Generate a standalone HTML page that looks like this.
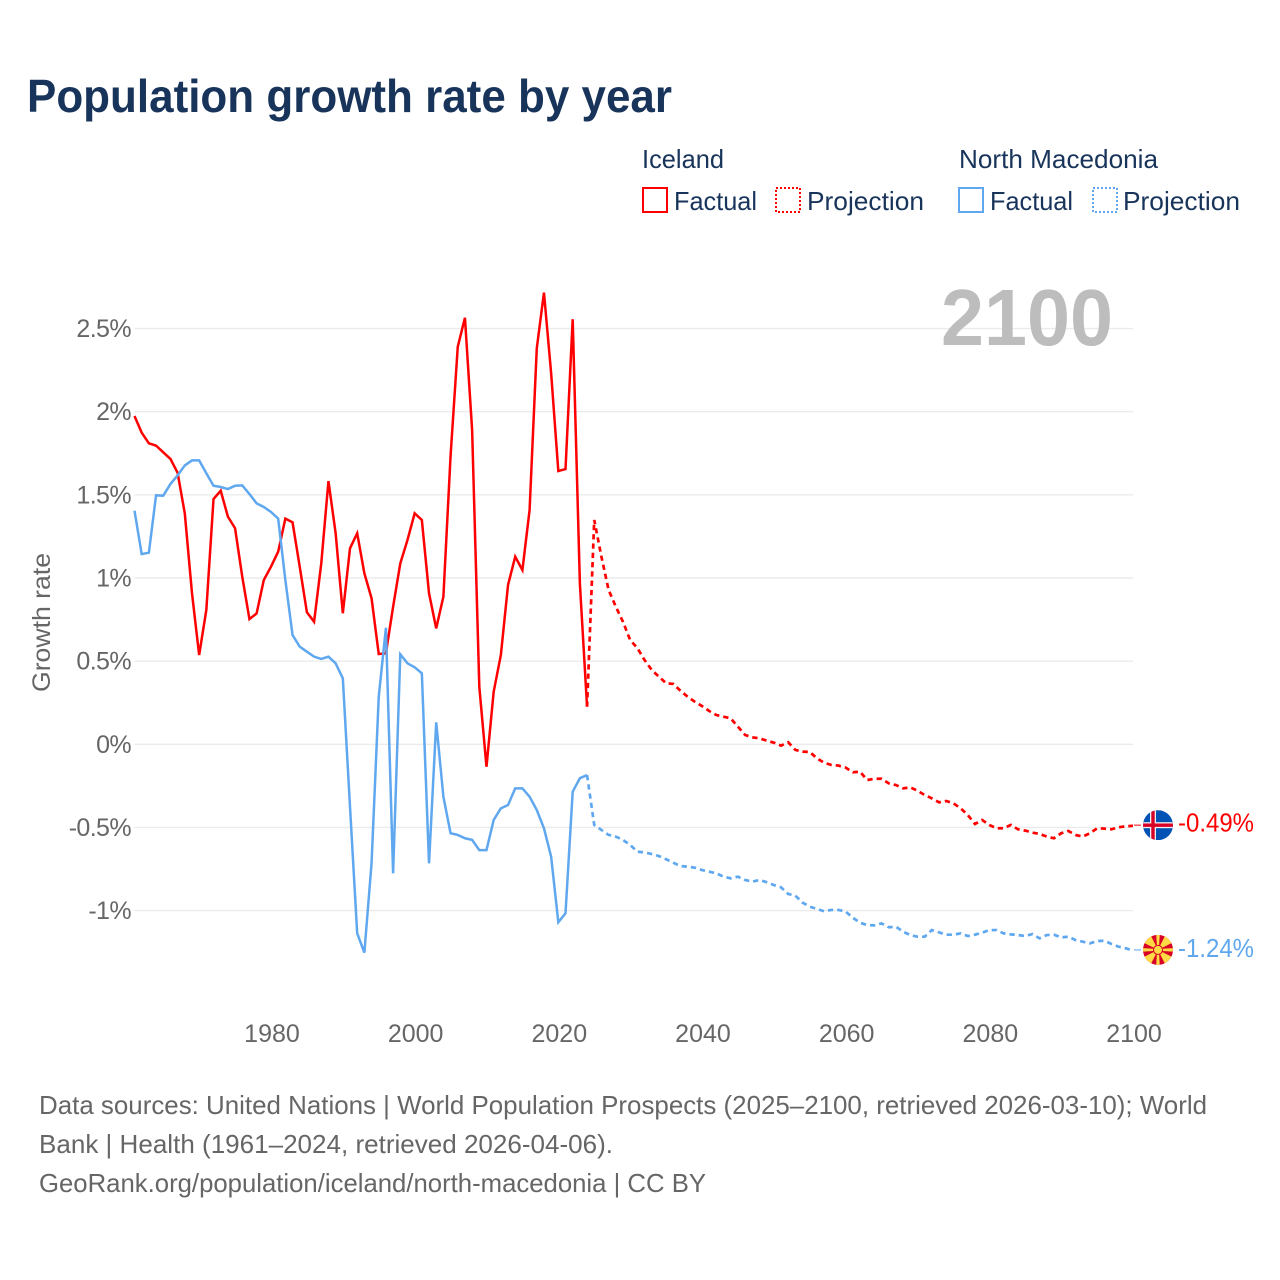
<!DOCTYPE html>
<html lang="en">
<head>
<meta charset="utf-8">
<title>Population growth rate by year</title>
<style>
  html, body { margin: 0; padding: 0; background: #ffffff; }
  svg { display: block; font-family: "Liberation Sans", sans-serif; }
</style>
</head>
<body>
<svg id="chart" xmlns="http://www.w3.org/2000/svg" width="1280" height="1280" viewBox="0 0 1280 1280">
  <defs>
    <clipPath id="flag-clip"><circle cx="0" cy="0" r="15"></circle></clipPath>
  </defs>
  <rect x="0" y="0" width="1280" height="1280" fill="#ffffff"></rect>

  <text x="27" y="112" font-size="46" font-weight="700" fill="#18345a" textLength="645" lengthAdjust="spacingAndGlyphs">Population growth rate by year</text>

  <g font-size="26" fill="#18345a">
    <text x="642" y="168" textLength="82" lengthAdjust="spacingAndGlyphs">Iceland</text>
    <text x="959" y="168" textLength="199" lengthAdjust="spacingAndGlyphs">North Macedonia</text>
    <g>
      <rect x="643" y="188" width="24" height="24" fill="none" stroke="#ff0000" stroke-width="2"></rect>
      <text x="674" y="210" textLength="83" lengthAdjust="spacingAndGlyphs">Factual</text>
    </g>
    <g>
      <rect x="776" y="188" width="24" height="24" fill="none" stroke="#ff0000" stroke-width="2" stroke-dasharray="2 2"></rect>
      <text x="807" y="210" textLength="117" lengthAdjust="spacingAndGlyphs">Projection</text>
    </g>
    <g>
      <rect x="959" y="188" width="24" height="24" fill="none" stroke="#5fa8ef" stroke-width="2"></rect>
      <text x="990" y="210" textLength="83" lengthAdjust="spacingAndGlyphs">Factual</text>
    </g>
    <g>
      <rect x="1093" y="188" width="24" height="24" fill="none" stroke="#5fa8ef" stroke-width="2" stroke-dasharray="2 2"></rect>
      <text x="1123" y="210" textLength="117" lengthAdjust="spacingAndGlyphs">Projection</text>
    </g>
  </g>

  <g id="grid"></g>
  <text x="941" y="345" font-size="80" font-weight="700" fill="#bdbdbd" textLength="172" lengthAdjust="spacingAndGlyphs">2100</text>
  <g id="y-ticks" font-size="25" fill="#666666" text-anchor="end" letter-spacing="-0.6"></g>
  <g id="x-ticks" font-size="25" fill="#666666" text-anchor="middle"></g>
  <text transform="translate(50 692) rotate(-90)" font-size="25" fill="#666666" textLength="139" lengthAdjust="spacingAndGlyphs">Growth rate</text>

  <g id="series"></g>

  <g id="flag-iceland">
    <g clip-path="url(#flag-clip)">
      <rect x="-15" y="-15" width="30" height="30" fill="#0052b4"></rect>
      <rect x="-15" y="-3" width="30" height="6" fill="#f0f0f0"></rect>
      <rect x="-8" y="-15" width="6" height="30" fill="#f0f0f0"></rect>
      <rect x="-15" y="-1.7" width="30" height="3.4" fill="#d80027"></rect>
      <rect x="-6.7" y="-15" width="3.4" height="30" fill="#d80027"></rect>
    </g>
  </g>
  <g id="flag-macedonia">
    <g clip-path="url(#flag-clip)">
      <rect x="-15" y="-15" width="30" height="30" fill="#d80027"></rect>
      <polygon fill="#ffda44" points="-1.8,-16 1.8,-16 0.9,0 -0.9,0"></polygon>
      <polygon fill="#ffda44" points="-1.8,16 1.8,16 0.9,0 -0.9,0"></polygon>
      <polygon fill="#ffda44" points="-16,-1.8 -16,1.8 0,0.9 0,-0.9"></polygon>
      <polygon fill="#ffda44" points="16,-1.8 16,1.8 0,0.9 0,-0.9"></polygon>
      <polygon fill="#ffda44" points="7.5,-15 15,-7.5 0,0"></polygon>
      <polygon fill="#ffda44" points="15,7.5 7.5,15 0,0"></polygon>
      <polygon fill="#ffda44" points="-7.5,15 -15,7.5 0,0"></polygon>
      <polygon fill="#ffda44" points="-15,-7.5 -7.5,-15 0,0"></polygon>
      <circle cx="0" cy="0" r="5" fill="#d80027"></circle>
      <circle cx="0" cy="0" r="4" fill="#ffda44"></circle>
    </g>
  </g>
  <text id="end-label-iceland" x="1178" font-size="26" fill="#ff0000" textLength="76" lengthAdjust="spacingAndGlyphs"></text>
  <text id="end-label-macedonia" x="1178" font-size="26" fill="#5fa8ef" textLength="76" lengthAdjust="spacingAndGlyphs"></text>

  <g font-size="26" fill="#666666">
    <text x="39" y="1114" textLength="1168" lengthAdjust="spacingAndGlyphs">Data sources: United Nations | World Population Prospects (2025–2100, retrieved 2026-03-10); World</text>
    <text x="39" y="1153" textLength="574" lengthAdjust="spacingAndGlyphs">Bank | Health (1961–2024, retrieved 2026-04-06).</text>
    <text x="39" y="1192" textLength="667" lengthAdjust="spacingAndGlyphs">GeoRank.org/population/iceland/north-macedonia | CC BY</text>
  </g>
</svg>

<script>
const factualStartYear = 1961;
const projectionStartYear = 2024;
const yTickValues = [2.5, 2, 1.5, 1, 0.5, 0, -0.5, -1];
const yTickLabels = ["2.5%", "2%", "1.5%", "1%", "0.5%", "0%", "-0.5%", "-1%"];
const xTickYears = [1980, 2000, 2020, 2040, 2060, 2080, 2100];
const icelandEndLabel = "-0.49%";
const macedoniaEndLabel = "-1.24%";

const icelandFactual = [
  1.974, 1.874, 1.81, 1.796, 1.756, 1.716, 1.633, 1.389, 0.91, 0.537,
  0.808, 1.475, 1.525, 1.369, 1.299, 1.008, 0.753, 0.787, 0.988, 1.068,
  1.158, 1.357, 1.335, 1.068, 0.794, 0.737, 1.088, 1.583, 1.269, 0.788,
  1.178, 1.269, 1.028, 0.878, 0.543, 0.547, 0.827, 1.088, 1.228, 1.389,
  1.349, 0.908, 0.697, 0.888, 1.735, 2.39, 2.565, 1.89, 0.346, -0.135,
  0.316, 0.537, 0.958, 1.128, 1.048, 1.409, 2.381, 2.716, 2.231, 1.643,
  1.655, 2.556, 0.968, 0.226
];
const icelandProjection = [
  0.226, 1.349, 1.128, 0.928, 0.828, 0.737, 0.627, 0.579, 0.507, 0.447,
  0.407, 0.367, 0.363, 0.322, 0.286, 0.256, 0.23, 0.2, 0.176, 0.166,
  0.156, 0.106, 0.056, 0.042, 0.036, 0.022, 0.01, -0.008, 0.012, -0.034,
  -0.044, -0.046, -0.084, -0.111, -0.124, -0.128, -0.14, -0.168, -0.165, -0.215,
  -0.207, -0.207, -0.235, -0.245, -0.265, -0.259, -0.279, -0.305, -0.325, -0.349,
  -0.341, -0.355, -0.385, -0.425, -0.479, -0.455, -0.485, -0.505, -0.505, -0.485,
  -0.511, -0.519, -0.531, -0.539, -0.555, -0.565, -0.535, -0.521, -0.545, -0.555,
  -0.535, -0.505, -0.507, -0.511, -0.499, -0.493, -0.49
];
const macedoniaFactual = [
  1.405, 1.144, 1.152, 1.497, 1.495, 1.565, 1.617, 1.677, 1.707, 1.707,
  1.63, 1.555, 1.547, 1.535, 1.555, 1.557, 1.505, 1.449, 1.427, 1.397,
  1.357, 0.988, 0.657, 0.587, 0.557, 0.527, 0.513, 0.527, 0.487, 0.397,
  -0.375, -1.136, -1.253, -0.716, 0.286, 0.701, -0.776, 0.541, 0.487, 0.463,
  0.427, -0.716, 0.132, -0.315, -0.535, -0.545, -0.565, -0.575, -0.636, -0.636,
  -0.455, -0.385, -0.365, -0.265, -0.265, -0.315, -0.395, -0.505, -0.676, -1.07,
  -1.016, -0.285, -0.204, -0.185
];
const macedoniaProjection = [
  -0.185, -0.485, -0.515, -0.545, -0.555, -0.575, -0.605, -0.646, -0.65, -0.66,
  -0.672, -0.691, -0.712, -0.732, -0.736, -0.742, -0.756, -0.766, -0.776, -0.796,
  -0.806, -0.796, -0.816, -0.826, -0.816, -0.829, -0.846, -0.86, -0.9, -0.91,
  -0.952, -0.976, -0.99, -1.004, -0.996, -0.996, -1.006, -1.043, -1.073, -1.087,
  -1.089, -1.077, -1.1, -1.097, -1.127, -1.147, -1.157, -1.157, -1.117, -1.131,
  -1.145, -1.145, -1.137, -1.153, -1.145, -1.133, -1.117, -1.117, -1.137, -1.143,
  -1.147, -1.153, -1.141, -1.167, -1.147, -1.145, -1.161, -1.157, -1.177, -1.187,
  -1.197, -1.183, -1.181, -1.201, -1.217, -1.227, -1.24
];

const SVG_NS = "http://www.w3.org/2000/svg";
const plotLeft = 134.5;
const plotRight = 1133;
const firstYear = 1961;
const lastYear = 2100;
const zeroY = 744.3;
const pxPerUnit = 166.3;

function xScale(year) {
  return plotLeft + (year - firstYear) * (plotRight - plotLeft) / (lastYear - firstYear);
}
function yScale(value) {
  return zeroY - value * pxPerUnit;
}
function linePath(startYear, values) {
  return values.map(function (v, i) {
    return (i === 0 ? "M" : "L") + xScale(startYear + i).toFixed(2) + " " + yScale(v).toFixed(2);
  }).join(" ");
}

const gridGroup = document.getElementById("grid");
const yTickGroup = document.getElementById("y-ticks");
const xTickGroup = document.getElementById("x-ticks");
const seriesGroup = document.getElementById("series");

yTickValues.forEach(function (value, i) {
  const rule = document.createElementNS(SVG_NS, "line");
  
  
  rule.setAttribute("x1", plotLeft);
  rule.setAttribute("x2", plotRight);
  rule.setAttribute("y1", yScale(value));
  rule.setAttribute("y2", yScale(value));
  rule.setAttribute("stroke", "#ebebeb");
  rule.setAttribute("stroke-width", "1.4");
  gridGroup.appendChild(rule);

  const label = document.createElementNS(SVG_NS, "text");
  
  
  label.setAttribute("x", 131);
  label.setAttribute("y", yScale(value) + 8.5);
  label.textContent = yTickLabels[i];
  yTickGroup.appendChild(label);
});

xTickYears.forEach(function (year) {
  const label = document.createElementNS(SVG_NS, "text");
  
  
  label.setAttribute("x", xScale(year) + 1);
  label.setAttribute("y", 1042);
  label.textContent = String(year);
  xTickGroup.appendChild(label);
});

const icelandFactualLine = document.createElementNS(SVG_NS, "path");


icelandFactualLine.setAttribute("d", linePath(factualStartYear, icelandFactual));
icelandFactualLine.setAttribute("fill", "none");
icelandFactualLine.setAttribute("stroke", "#ff0000");
icelandFactualLine.setAttribute("stroke-width", "2.5");
seriesGroup.appendChild(icelandFactualLine);

const icelandProjectionLine = document.createElementNS(SVG_NS, "path");


icelandProjectionLine.setAttribute("d", linePath(projectionStartYear, icelandProjection));
icelandProjectionLine.setAttribute("fill", "none");
icelandProjectionLine.setAttribute("stroke", "#ff0000");
icelandProjectionLine.setAttribute("stroke-width", "2.7");
icelandProjectionLine.setAttribute("stroke-dasharray", "5.3 4");
seriesGroup.appendChild(icelandProjectionLine);

const macedoniaFactualLine = document.createElementNS(SVG_NS, "path");


macedoniaFactualLine.setAttribute("d", linePath(factualStartYear, macedoniaFactual));
macedoniaFactualLine.setAttribute("fill", "none");
macedoniaFactualLine.setAttribute("stroke", "#5fa8ef");
macedoniaFactualLine.setAttribute("stroke-width", "2.5");
seriesGroup.appendChild(macedoniaFactualLine);

const macedoniaProjectionLine = document.createElementNS(SVG_NS, "path");


macedoniaProjectionLine.setAttribute("d", linePath(projectionStartYear, macedoniaProjection));
macedoniaProjectionLine.setAttribute("fill", "none");
macedoniaProjectionLine.setAttribute("stroke", "#5fa8ef");
macedoniaProjectionLine.setAttribute("stroke-width", "2.7");
macedoniaProjectionLine.setAttribute("stroke-dasharray", "5.3 4");
seriesGroup.appendChild(macedoniaProjectionLine);

const icelandEndY = yScale(icelandProjection[icelandProjection.length - 1]);
const macedoniaEndY = yScale(macedoniaProjection[macedoniaProjection.length - 1]);

const icelandConnector = document.createElementNS(SVG_NS, "line");


icelandConnector.setAttribute("x1", plotRight + 1);
icelandConnector.setAttribute("x2", plotRight + 8);
icelandConnector.setAttribute("y1", icelandEndY - 0.6);
icelandConnector.setAttribute("y2", icelandEndY - 0.6);
icelandConnector.setAttribute("stroke", "#ff5a5a");
icelandConnector.setAttribute("stroke-width", "1.5");
seriesGroup.appendChild(icelandConnector);

const macedoniaConnector = document.createElementNS(SVG_NS, "line");


macedoniaConnector.setAttribute("x1", plotRight + 1);
macedoniaConnector.setAttribute("x2", plotRight + 8);
macedoniaConnector.setAttribute("y1", macedoniaEndY - 0.6);
macedoniaConnector.setAttribute("y2", macedoniaEndY - 0.6);
macedoniaConnector.setAttribute("stroke", "#8fc0f2");
macedoniaConnector.setAttribute("stroke-width", "1.5");
seriesGroup.appendChild(macedoniaConnector);

document.getElementById("flag-iceland").setAttribute("transform", "translate(1158 " + (icelandEndY - 0.6) + ")");
document.getElementById("flag-macedonia").setAttribute("transform", "translate(1158 " + (macedoniaEndY - 0.6) + ")");

const icelandEndText = document.getElementById("end-label-iceland");
icelandEndText.setAttribute("y", icelandEndY + 5.5);
icelandEndText.textContent = icelandEndLabel;

const macedoniaEndText = document.getElementById("end-label-macedonia");
macedoniaEndText.setAttribute("y", macedoniaEndY + 6.5);
macedoniaEndText.textContent = macedoniaEndLabel;
</script>
</body>
</html>
